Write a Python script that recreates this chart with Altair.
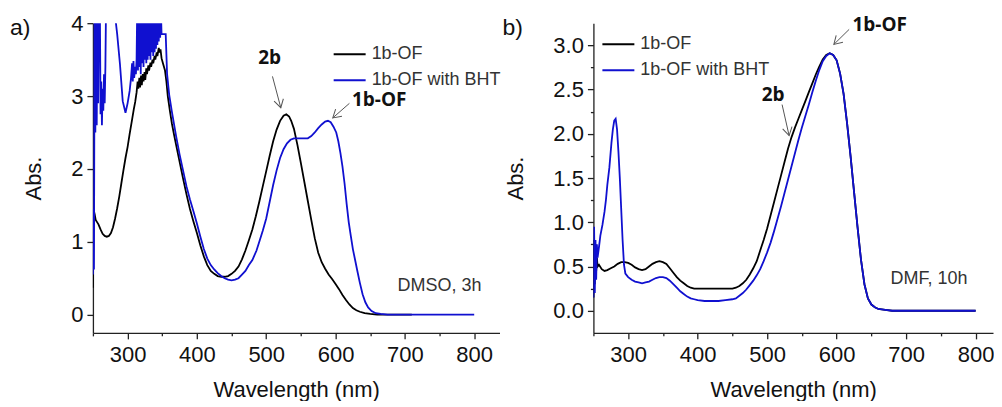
import math
import altair as alt
import pandas as pd

FONT = "Liberation Sans"
ANNOT_FONT = "Open Sans"
SERIES = ["1b-OF", "1b-OF with BHT"]
COLORS = ["#000000", "#1010d0"]

# ---------------- panel a) DMSO, 3h ----------------
A_BLACK_NM = [250, 250.7, 251.5, 252.5, 254, 256, 258, 261, 264, 267, 270, 273, 276, 279, 282, 285, 288, 291, 294, 297,
              300, 303, 306, 309, 311, 313, 314.5, 315.5, 317, 318, 319.5, 320.5, 322, 323, 324.5, 325.5, 327, 328, 330,
              331, 333, 334, 336, 337, 339, 340, 342, 343, 345, 346, 347.5, 349, 351, 354, 356, 358, 361, 364, 367,
              370, 375, 380, 385, 390, 395, 400, 405, 410, 415, 420, 425, 430, 435, 440, 445, 450, 455, 460, 465, 470,
              475, 480, 485, 490, 495, 500, 505, 510, 515, 520, 525, 529, 533, 536, 540, 545, 550, 555, 560, 565, 570,
              575, 580, 585, 590, 595, 600, 605, 610, 615, 620, 625, 630, 635, 642, 650, 660, 710]
A_BLACK_ABS = [0.37, 0.95, 1.42, 1.38, 1.3, 1.27, 1.24, 1.17, 1.11, 1.08, 1.07, 1.08, 1.12, 1.2, 1.32, 1.46, 1.62, 1.8,
               1.98, 2.15, 2.3, 2.48, 2.65, 2.82, 2.92, 3.05, 3.2, 3.1, 3.25, 3.12, 3.28, 3.15, 3.3, 3.2, 3.33, 3.22,
               3.38, 3.3, 3.42, 3.35, 3.46, 3.4, 3.5, 3.45, 3.55, 3.5, 3.6, 3.55, 3.66, 3.6, 3.64, 3.52, 3.45, 3.35,
               3.2, 3.0, 2.8, 2.62, 2.47, 2.33, 2.1, 1.87, 1.65, 1.45, 1.28, 1.12, 0.95, 0.8, 0.68, 0.6, 0.56, 0.53,
               0.52, 0.52, 0.53, 0.56, 0.6, 0.66, 0.76, 0.88, 1.02, 1.17, 1.35, 1.55, 1.76, 1.97, 2.18, 2.38, 2.54,
               2.66, 2.73, 2.75, 2.72, 2.66, 2.55, 2.33, 2.08, 1.82, 1.56, 1.3, 1.05, 0.85, 0.72, 0.63, 0.55, 0.49,
               0.42, 0.35, 0.27, 0.2, 0.14, 0.09, 0.06, 0.04, 0.02, 0.01, 0.0, 0.0]

A_BLUE_NM = [250, 251, 251.5, 252.5, 253.5, 254.5, 255.5, 256.5, 257.5, 258.5, 260, 261, 262, 263, 264, 265, 266, 267,
             268, 269, 272, 275, 279, 282, 285, 289, 293, 297, 300, 303, 305, 306.5, 307.5, 308.5, 309.5, 311, 312,
             313, 314, 315, 316, 317, 318, 319, 320, 321, 322, 323, 324, 325, 326, 327, 328, 329, 330, 331, 332, 333,
             334, 335, 336, 337, 338, 339, 340, 341, 342, 343, 344, 345, 346, 347, 348, 349, 352, 355, 357, 360, 364,
             370, 375, 380, 385, 390, 395, 400, 405, 410, 415, 420, 425, 430, 435, 440, 445, 450, 455, 460, 465, 470,
             475, 480, 486, 490, 495, 500, 505, 510, 515, 520, 525, 530, 535, 540, 550, 560, 565, 570, 575, 580, 585,
             589, 593, 597, 601, 604, 607, 610, 613, 616, 619, 622, 625, 628, 631, 635, 639, 643, 647, 652, 658, 665,
             675, 800]
A_BLUE_ABS = [0.55, 1.45, 0.62, 4.3, 2.5, 4.3, 2.6, 4.3, 2.9, 4.3, 4.3, 2.75, 3.2, 2.6, 3.1, 2.8, 3.3, 2.9, 3.4, 4.3,
              4.3, 4.4, 4.3, 4.1, 3.85, 3.44, 2.93, 2.77, 2.9, 3.07, 3.25, 3.45, 3.2, 3.48, 3.25, 3.4, 3.3, 3.5, 4.3,
              3.35, 4.3, 3.4, 4.3, 3.3, 4.3, 3.45, 4.3, 3.4, 4.3, 3.5, 4.3, 3.45, 4.3, 3.5, 4.3, 3.55, 4.3, 3.5, 4.3,
              3.6, 4.3, 3.55, 4.3, 3.6, 4.3, 3.65, 4.3, 3.7, 4.3, 3.75, 4.3, 3.8, 4.2, 3.85, 3.85, 3.85, 3.3, 3.02,
              2.78, 2.45, 2.2, 1.98, 1.76, 1.58, 1.42, 1.25, 1.07, 0.9, 0.77, 0.68, 0.62, 0.57, 0.53, 0.5, 0.48, 0.47,
              0.48, 0.5, 0.55, 0.6, 0.68, 0.75, 0.88, 1.0, 1.15, 1.32, 1.55, 1.78, 1.98, 2.15, 2.27, 2.35, 2.4, 2.42,
              2.42, 2.42, 2.45, 2.5, 2.56, 2.61, 2.65, 2.66, 2.64, 2.58, 2.5, 2.38, 2.22, 2.03, 1.8, 1.52, 1.27, 1.08,
              0.9, 0.76, 0.62, 0.44, 0.28, 0.17, 0.1, 0.05, 0.02, 0.01, 0.0, 0.0]

# ---------------- panel b) DMF, 10h ----------------
B_BLACK_NM = [250, 251, 252, 253, 254, 255, 256, 258, 262, 266, 270, 275, 280, 285, 290, 295, 300, 305, 310, 315, 320,
              325, 330, 335, 340, 345, 350, 355, 360, 365, 370, 375, 380, 385, 390, 395, 400, 450, 455, 460, 465, 470,
              475, 480, 485, 490, 495, 500, 505, 510, 515, 520, 525, 530, 535, 540, 545, 550, 555, 560, 565, 570, 575,
              580, 585, 590, 595, 600, 605, 610, 615, 620, 625, 630, 635, 640, 645, 650, 655, 660, 670, 680, 800]
B_BLACK_ABS = [0.15, 0.8, 0.3, 0.75, 0.45, 0.6, 0.5, 0.52, 0.47, 0.45, 0.46, 0.48, 0.5, 0.53, 0.55, 0.55, 0.54, 0.52,
               0.49, 0.47, 0.46, 0.47, 0.5, 0.53, 0.55, 0.56, 0.55, 0.53, 0.48, 0.43, 0.38, 0.34, 0.31, 0.28, 0.26,
               0.25, 0.25, 0.25, 0.26, 0.28, 0.31, 0.35, 0.41, 0.48, 0.56, 0.68, 0.8, 0.93, 1.08, 1.23, 1.38, 1.53,
               1.68, 1.83, 1.96, 2.07, 2.17, 2.27, 2.37, 2.47, 2.57, 2.67, 2.76, 2.84, 2.89, 2.91, 2.89, 2.83, 2.68,
               2.45, 2.12, 1.75, 1.35, 0.95, 0.58, 0.3, 0.14, 0.07, 0.04, 0.02, 0.01, 0.0, 0.0]

B_BLUE_NM = [250, 251, 252, 253, 254, 255, 256, 258, 260, 263, 266, 268, 270, 273, 276, 278, 280, 282, 284, 286, 288,
             290, 292, 294, 296, 300, 305, 310, 315, 320, 325, 330, 335, 340, 345, 350, 355, 360, 365, 370, 375, 380,
             385, 390, 395, 400, 410, 420, 430, 440, 450, 455, 460, 465, 470, 475, 480, 485, 490, 495, 500, 505, 510,
             515, 520, 525, 530, 535, 540, 545, 550, 555, 560, 565, 570, 575, 580, 585, 590, 595, 600, 605, 610, 615,
             620, 625, 630, 635, 640, 645, 650, 655, 660, 670, 680, 800]
B_BLUE_ABS = [0.15, 0.95, 0.2, 0.8, 0.35, 0.75, 0.6, 0.72, 0.85, 0.97, 1.12, 1.25, 1.42, 1.62, 1.9, 2.05, 2.15, 2.17,
              2.05, 1.8, 1.5, 1.15, 0.8, 0.52, 0.42, 0.38, 0.35, 0.33, 0.32, 0.31, 0.32, 0.33, 0.35, 0.37, 0.38, 0.38,
              0.37, 0.34, 0.3, 0.26, 0.22, 0.19, 0.16, 0.14, 0.13, 0.12, 0.11, 0.11, 0.11, 0.12, 0.13, 0.14, 0.17,
              0.2, 0.24, 0.29, 0.34, 0.4, 0.47, 0.56, 0.66, 0.77, 0.9, 1.04, 1.18, 1.33, 1.48, 1.63, 1.78, 1.93, 2.07,
              2.2, 2.33, 2.47, 2.6, 2.72, 2.82, 2.88, 2.91, 2.89, 2.83, 2.68, 2.45, 2.12, 1.75, 1.35, 0.95, 0.58, 0.3,
              0.14, 0.07, 0.04, 0.02, 0.01, 0.0, 0.0]

# ---------------- axes / ticks ----------------
X_TICKS = [250, 300, 350, 400, 450, 500, 550, 600, 650, 700, 750, 800]
A_Y_TICKS = [0, 0.5, 1, 1.5, 2, 2.5, 3, 3.5, 4]
B_Y_TICKS = [0, 0.25, 0.5, 0.75, 1, 1.25, 1.5, 1.75, 2, 2.25, 2.5, 2.75, 3]

# ---------------- annotations ----------------
A_ANN_TEXT = ["2b", "1b-OF"]
A_ANN_NM = [505, 663]
A_ANN_ABS = [3.52, 2.95]
A_ARROW_NM0 = [509, 620]
A_ARROW_ABS0 = [3.27, 2.90]
A_ARROW_NM1 = [521, 596]
A_ARROW_ABS1 = [2.84, 2.70]
A_NOTE = ["DMSO, 3h"]
A_NOTE_NM = [750]
A_NOTE_ABS = [0.40]

B_ANN_TEXT = ["1b-OF", "2b"]
B_ANN_NM = [662, 508.6]
B_ANN_ABS = [3.23, 2.44]
B_ARROW_NM0 = [618, 521.5]
B_ARROW_ABS0 = [3.18, 2.33]
B_ARROW_NM1 = [596, 531.6]
B_ARROW_ABS1 = [3.01, 1.98]
B_NOTE = ["DMF, 10h"]
B_NOTE_NM = [733]
B_NOTE_ABS = [0.36]

AX = dict(labelFont=FONT, titleFont=FONT, labelFontSize=22, titleFontSize=22, titleFontWeight="normal",
          labelColor="#111111", titleColor="#111111", domainColor="#222222", tickColor="#222222",
          domainWidth=1.3, tickWidth=1.3, grid=False, labelOverlap=False, labelFlush=False)


def panel(tag, tag_xy, bk_nm, bk_abs, bl_nm, bl_abs, xdom, ydom, yticks, ymajor, yfmt, width, height,
          ann, arrows, note, legend_xy):
    x_axis = alt.Axis(title="Wavelength (nm)", values=X_TICKS, format="d",
                      labelExpr="datum.value % 100 === 0 ? datum.label : ''",
                      tickSize={"condition": {"test": "datum.value % 100 === 0", "value": 6}, "value": 3},
                      labelPadding=6, titlePadding=14, **AX)
    y_axis = alt.Axis(title="Abs.", values=yticks, format=yfmt,
                      labelExpr=f"abs(datum.value % {ymajor}) < 1e-9 ? datum.label : ''",
                      tickSize={"condition": {"test": f"abs(datum.value % {ymajor}) < 1e-9", "value": 6}, "value": 3},
                      labelPadding=4, titlePadding=25, **AX)
    xs = alt.Scale(domain=xdom, nice=False, zero=False)
    ys = alt.Scale(domain=ydom, nice=False, zero=False)

    def X(f):
        return alt.X(f, type="quantitative", scale=xs, axis=x_axis)

    def Y(f):
        return alt.Y(f, type="quantitative", scale=ys, axis=y_axis)

    df = pd.DataFrame({
        "nm": bk_nm + bl_nm,
        "abs": bk_abs + bl_abs,
        "series": [SERIES[0]] * len(bk_nm) + [SERIES[1]] * len(bl_nm),
    })
    color = alt.Color("series:N", scale=alt.Scale(domain=SERIES, range=COLORS),
                      legend=alt.Legend(orient="none", legendX=legend_xy[0], legendY=legend_xy[1], title=None,
                                        symbolType="stroke", symbolSize=1024, symbolStrokeWidth=2,
                                        labelFont=FONT, labelFontSize=18, labelColor="#333333", labelOffset=5,
                                        rowPadding=-20, padding=0, labelLimit=0))
    base = alt.Chart(df)
    black = base.transform_filter(alt.datum.series == SERIES[0]).mark_line(strokeWidth=1.8, clip=True).encode(
        x=X("nm"), y=Y("abs"), color=color)
    blue = base.transform_filter(alt.datum.series == SERIES[1]).mark_line(strokeWidth=1.8, clip=True).encode(
        x=X("nm"), y=Y("abs"), color=color)

    kx = width / (xdom[1] - xdom[0])
    ky = height / (ydom[1] - ydom[0])
    n0, a0, n1, a1 = arrows
    angs = []
    for i in range(len(n0)):
        dx = (n1[i] - n0[i]) * kx
        dy = -(a1[i] - a0[i]) * ky
        angs.append(math.degrees(math.atan2(-dx, dy)) % 360)
    adf = pd.DataFrame({"x0": n0, "y0": a0, "x1": n1, "y1": a1, "ang": angs})
    rules = alt.Chart(adf).mark_rule(color="#555555", strokeWidth=1).encode(
        x=X("x0"), y=Y("y0"), x2="x1:Q", y2="y1:Q")
    heads = alt.Chart(adf).mark_point(shape="M-0.6,-1L0,0L0.6,-1", size=256, filled=False, strokeWidth=1,
                                      color="#555555", opacity=1).encode(
        x=X("x1"), y=Y("y1"), angle=alt.Angle("ang:Q", scale=None))

    t, tn, ta = ann
    tdf = pd.DataFrame({"t": t, "nm": tn, "abs": ta})
    texts = alt.Chart(tdf).mark_text(font=ANNOT_FONT, fontWeight="bold", fontSize=19, color="#111111").encode(
        x=X("nm"), y=Y("abs"), text="t:N")

    nt, nn, na = note
    ndf = pd.DataFrame({"t": nt, "nm": nn, "abs": na})
    notes = alt.Chart(ndf).mark_text(font=FONT, fontSize=18, color="#333333").encode(
        x=X("nm"), y=Y("abs"), text="t:N")

    tagc = alt.Chart(pd.DataFrame({"t": [tag]})).mark_text(
        font=FONT, fontSize=23, color="#111111", align="left", baseline="middle").encode(
        x=alt.value(tag_xy[0]), y=alt.value(tag_xy[1]), text="t:N")

    return alt.layer(black, blue, rules, heads, texts, notes, tagc).properties(width=width, height=height)


left = panel("a)", (-83, 5), A_BLACK_NM, A_BLACK_ABS, A_BLUE_NM, A_BLUE_ABS, [250, 836.5], [-0.25, 4],
             A_Y_TICKS, 1, "d", 407, 310,
             (A_ANN_TEXT, A_ANN_NM, A_ANN_ABS), (A_ARROW_NM0, A_ARROW_ABS0, A_ARROW_NM1, A_ARROW_ABS1),
             (A_NOTE, A_NOTE_NM, A_NOTE_ABS), (240, 14))
right = panel("b)", (-91, 5), B_BLACK_NM, B_BLACK_ABS, B_BLUE_NM, B_BLUE_ABS, [250, 825], [-0.25, 3.25],
              B_Y_TICKS, 0.5, ".1f", 400, 310,
              (B_ANN_TEXT, B_ANN_NM, B_ANN_ABS), (B_ARROW_NM0, B_ARROW_ABS0, B_ARROW_NM1, B_ARROW_ABS1),
              (B_NOTE, B_NOTE_NM, B_NOTE_ABS), (8, 4))

chart = alt.hconcat(left, right, spacing=94, bounds="flush").resolve_scale(
    x="independent", y="independent", color="independent").resolve_legend(color="independent").configure_view(
    stroke=None).properties(padding={"left": 2, "top": 4, "right": 0, "bottom": 0}, background="white")

chart.save("out.html", embed_options={"renderer": "svg", "actions": False})
